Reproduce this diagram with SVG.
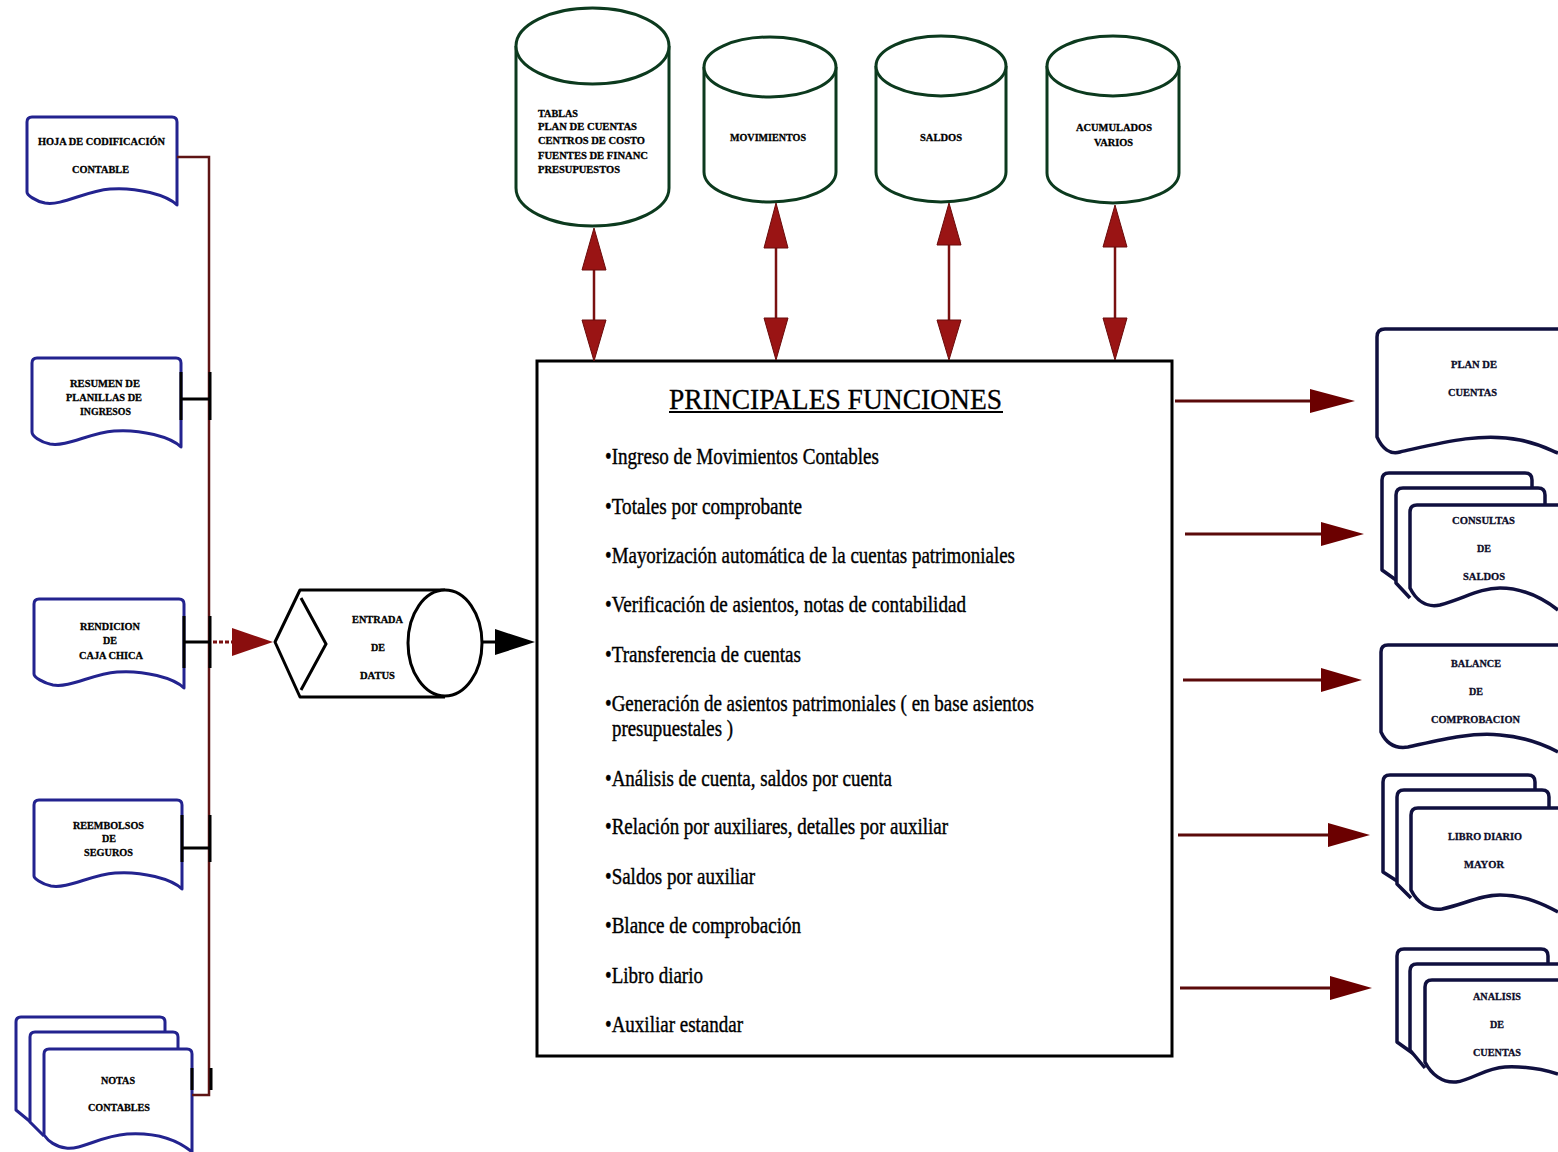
<svg xmlns="http://www.w3.org/2000/svg" width="1558" height="1152" viewBox="0 0 1558 1152">
  <defs>
    <style>
      .doc-l { fill: #fff; stroke: #23238f; stroke-width: 3; stroke-linejoin: round; }
      .doc-r { fill: #fff; stroke: #10103f; stroke-width: 3.5; stroke-linejoin: round; }
      .cyl { fill: #fff; stroke: #0c3a1e; stroke-width: 3; }
      .lbl { font-family: "Liberation Serif", "Times New Roman", serif; font-weight: bold; font-size: 11px; fill: #000; stroke: #000; stroke-width: 0.3; }
      .lbl-r { font-family: "Liberation Serif", "Times New Roman", serif; font-weight: bold; font-size: 11px; fill: #0c0c28; stroke: #0c0c28; stroke-width: 0.3; }
      .func { font-family: "Liberation Serif", "Times New Roman", serif; font-size: 22.5px; fill: #000; stroke: #000; stroke-width: 0.4; }
      .title { font-family: "Liberation Serif", "Times New Roman", serif; font-size: 30px; fill: #000; stroke: #000; stroke-width: 0.3; }
      .bus { fill: none; stroke: #5e1414; stroke-width: 2.5; }
      .tie { fill: none; stroke: #000; stroke-width: 3; }
      .dbl { stroke: #7a1010; stroke-width: 2.5; }
      .head-red { fill: #9a1414; stroke: #6a0a0a; stroke-width: 1; }
      .out-line { stroke: #5b0a0a; stroke-width: 3; }
      .out-head { fill: #6b0000; }
    </style>
  </defs>

  <!-- ===== Input documents (left) ===== -->
  <g id="doc-hoja-codificacion">
    <path class="doc-l" d="M27,192 V122 Q27,117 32,117 H172 Q177,117 177,122 V205 C167,195 137,187 110,189 C85,191 62,206 45,203 C35,201 27,195 27,192 Z"/>
    <text class="lbl" x="38" y="145" textLength="127" lengthAdjust="spacingAndGlyphs">HOJA DE CODIFICACIÓN</text>
    <text class="lbl" x="72" y="173" textLength="57" lengthAdjust="spacingAndGlyphs">CONTABLE</text>
  </g>

  <g id="doc-resumen-planillas">
    <path class="doc-l" d="M32,432 V363 Q32,358 37,358 H176 Q181,358 181,363 V447 C171,437 141,429 114,431 C89,433 67,447 50,444 C40,442 32,436 32,432 Z"/>
    <text class="lbl" x="70" y="387" textLength="70" lengthAdjust="spacingAndGlyphs">RESUMEN DE</text>
    <text class="lbl" x="66" y="401" textLength="76" lengthAdjust="spacingAndGlyphs">PLANILLAS DE</text>
    <text class="lbl" x="80" y="415" textLength="51" lengthAdjust="spacingAndGlyphs">INGRESOS</text>
  </g>

  <g id="doc-rendicion-caja">
    <path class="doc-l" d="M34,674 V604 Q34,599 39,599 H179 Q184,599 184,604 V688 C174,678 144,670 117,672 C92,674 70,688 53,685 C43,683 34,677 34,674 Z"/>
    <text class="lbl" x="80" y="630" textLength="60" lengthAdjust="spacingAndGlyphs">RENDICION</text>
    <text class="lbl" x="103" y="644" textLength="14" lengthAdjust="spacingAndGlyphs">DE</text>
    <text class="lbl" x="79" y="659" textLength="64" lengthAdjust="spacingAndGlyphs">CAJA CHICA</text>
  </g>

  <g id="doc-reembolsos">
    <path class="doc-l" d="M34,876 V805 Q34,800 39,800 H177 Q182,800 182,805 V889 C172,879 142,871 115,873 C90,875 68,889 51,886 C41,884 34,878 34,876 Z"/>
    <text class="lbl" x="73" y="829" textLength="71" lengthAdjust="spacingAndGlyphs">REEMBOLSOS</text>
    <text class="lbl" x="102" y="842" textLength="14" lengthAdjust="spacingAndGlyphs">DE</text>
    <text class="lbl" x="84" y="856" textLength="49" lengthAdjust="spacingAndGlyphs">SEGUROS</text>
  </g>

  <g id="doc-notas-contables">
    <path class="doc-l" d="M44,1133 L16,1110 V1022 Q16,1017 21,1017 H160 Q165,1017 165,1022 V1032"/>
    <path class="doc-l" d="M44,1136 L30,1122 V1037 Q30,1032 35,1032 H173 Q178,1032 178,1037 V1049"/>
    <path class="doc-l" d="M44,1135 V1054 Q44,1049 49,1049 H187 Q192,1049 192,1054 V1152 C180,1142 160,1132 127,1134 C100,1136 82,1150 66,1148 C56,1147 48,1141 44,1135 Z"/>
    <text class="lbl" x="101" y="1084" textLength="34" lengthAdjust="spacingAndGlyphs">NOTAS</text>
    <text class="lbl" x="88" y="1111" textLength="62" lengthAdjust="spacingAndGlyphs">CONTABLES</text>
  </g>

  <!-- ===== Data stores (top) ===== -->
  <g id="db-tablas">
    <path class="cyl" d="M516,46 V188 A76.5,38 0 0 0 669,188 V46"/>
    <ellipse class="cyl" cx="592.5" cy="46" rx="76.5" ry="38"/>
    <text class="lbl" x="538" y="117" textLength="40" lengthAdjust="spacingAndGlyphs">TABLAS</text>
    <text class="lbl" x="538" y="130" textLength="99" lengthAdjust="spacingAndGlyphs">PLAN DE CUENTAS</text>
    <text class="lbl" x="538" y="144" textLength="107" lengthAdjust="spacingAndGlyphs">CENTROS DE COSTO</text>
    <text class="lbl" x="538" y="159" textLength="110" lengthAdjust="spacingAndGlyphs">FUENTES DE FINANC</text>
    <text class="lbl" x="538" y="173" textLength="82" lengthAdjust="spacingAndGlyphs">PRESUPUESTOS</text>
  </g>

  <g id="db-movimientos">
    <path class="cyl" d="M704,67 V172 A66,30 0 0 0 836,172 V67"/>
    <ellipse class="cyl" cx="770" cy="67" rx="66" ry="30"/>
    <text class="lbl" x="730" y="141" textLength="76" lengthAdjust="spacingAndGlyphs">MOVIMIENTOS</text>
  </g>

  <g id="db-saldos">
    <path class="cyl" d="M876,66 V172 A65,30 0 0 0 1006,172 V66"/>
    <ellipse class="cyl" cx="941" cy="66" rx="65" ry="30"/>
    <text class="lbl" x="920" y="141" textLength="42" lengthAdjust="spacingAndGlyphs">SALDOS</text>
  </g>

  <g id="db-acumulados">
    <path class="cyl" d="M1047,66 V173 A66,30 0 0 0 1179,173 V66"/>
    <ellipse class="cyl" cx="1113" cy="66" rx="66" ry="30"/>
    <text class="lbl" x="1076" y="131" textLength="76" lengthAdjust="spacingAndGlyphs">ACUMULADOS</text>
    <text class="lbl" x="1094" y="146" textLength="39" lengthAdjust="spacingAndGlyphs">VARIOS</text>
  </g>

  <!-- ===== Data entry ===== -->
  <g id="entrada-datos">
    <path d="M445,590 H300 L275,642 L300,697 H445" fill="#fff" stroke="#000" stroke-width="3" stroke-linejoin="round"/>
    <ellipse cx="445" cy="643" rx="37" ry="53" fill="#fff" stroke="#000" stroke-width="3"/>
    <path d="M301,598 L326,644 L301,690" fill="none" stroke="#000" stroke-width="3"/>
    <text class="lbl" x="352" y="623" textLength="51" lengthAdjust="spacingAndGlyphs">ENTRADA</text>
    <text class="lbl" x="371" y="651" textLength="14" lengthAdjust="spacingAndGlyphs">DE</text>
    <text class="lbl" x="360" y="679" textLength="35" lengthAdjust="spacingAndGlyphs">DATUS</text>
  </g>

  <!-- ===== Main functions box ===== -->
  <g id="principales-funciones">
    <rect x="537" y="361" width="635" height="695" fill="#fff" stroke="#000" stroke-width="3"/>
    <text class="title" x="669" y="409" textLength="333" lengthAdjust="spacingAndGlyphs">PRINCIPALES FUNCIONES</text>
    <line x1="669" y1="412" x2="1003" y2="412" stroke="#000" stroke-width="1.8"/>
    <text class="func" x="605" y="464" textLength="274" lengthAdjust="spacingAndGlyphs">•Ingreso de Movimientos Contables</text>
    <text class="func" x="605" y="514" textLength="197" lengthAdjust="spacingAndGlyphs">•Totales por comprobante</text>
    <text class="func" x="605" y="563" textLength="410" lengthAdjust="spacingAndGlyphs">•Mayorización automática de la cuentas patrimoniales</text>
    <text class="func" x="605" y="612" textLength="361" lengthAdjust="spacingAndGlyphs">•Verificación de asientos, notas de contabilidad</text>
    <text class="func" x="605" y="662" textLength="196" lengthAdjust="spacingAndGlyphs">•Transferencia de cuentas</text>
    <text class="func" x="605" y="711" textLength="429" lengthAdjust="spacingAndGlyphs">•Generación de asientos patrimoniales ( en base asientos</text>
    <text class="func" x="612" y="736" textLength="121" lengthAdjust="spacingAndGlyphs">presupuestales )</text>
    <text class="func" x="605" y="786" textLength="287" lengthAdjust="spacingAndGlyphs">•Análisis de cuenta, saldos por cuenta</text>
    <text class="func" x="605" y="834" textLength="343" lengthAdjust="spacingAndGlyphs">•Relación por auxiliares, detalles por auxiliar</text>
    <text class="func" x="605" y="884" textLength="150" lengthAdjust="spacingAndGlyphs">•Saldos por auxiliar</text>
    <text class="func" x="605" y="933" textLength="196" lengthAdjust="spacingAndGlyphs">•Blance de comprobación</text>
    <text class="func" x="605" y="983" textLength="98" lengthAdjust="spacingAndGlyphs">•Libro diario</text>
    <text class="func" x="605" y="1032" textLength="138" lengthAdjust="spacingAndGlyphs">•Auxiliar estandar</text>
  </g>

  <!-- ===== Output reports (right) ===== -->
  <g id="rep-plan-cuentas">
    <path class="doc-r" d="M1558,329 H1385 Q1377,329 1377,337 V437 C1382,448 1390,455 1400,452 C1440,443 1480,432 1520,440 C1540,444 1550,450 1558,453"/>
    <text class="lbl-r" x="1451" y="368" textLength="46" lengthAdjust="spacingAndGlyphs">PLAN DE</text>
    <text class="lbl-r" x="1448" y="396" textLength="49" lengthAdjust="spacingAndGlyphs">CUENTAS</text>
  </g>

  <g id="rep-consultas-saldos">
    <path class="doc-r" d="M1410,590 L1382,570 V480 Q1382,473 1389,473 H1525 Q1532,473 1532,480 V488"/>
    <path class="doc-r" d="M1410,598 L1396,583 V495 Q1396,488 1403,488 H1538 Q1545,488 1545,495 V505"/>
    <path class="doc-r" d="M1558,505 H1417 Q1410,505 1410,512 V588 C1416,600 1426,608 1440,605 C1465,598 1480,588 1500,588 C1525,588 1545,600 1558,610"/>
    <text class="lbl-r" x="1452" y="524" textLength="63" lengthAdjust="spacingAndGlyphs">CONSULTAS</text>
    <text class="lbl-r" x="1477" y="552" textLength="14" lengthAdjust="spacingAndGlyphs">DE</text>
    <text class="lbl-r" x="1463" y="580" textLength="42" lengthAdjust="spacingAndGlyphs">SALDOS</text>
  </g>

  <g id="rep-balance">
    <path class="doc-r" d="M1558,645 H1388 Q1381,645 1381,652 V732 C1386,743 1395,749 1408,747 C1440,740 1470,732 1500,735 C1525,737 1545,745 1558,752"/>
    <text class="lbl-r" x="1451" y="667" textLength="50" lengthAdjust="spacingAndGlyphs">BALANCE</text>
    <text class="lbl-r" x="1469" y="695" textLength="14" lengthAdjust="spacingAndGlyphs">DE</text>
    <text class="lbl-r" x="1431" y="723" textLength="89" lengthAdjust="spacingAndGlyphs">COMPROBACION</text>
  </g>

  <g id="rep-libro-diario">
    <path class="doc-r" d="M1411,890 L1383,872 V782 Q1383,775 1390,775 H1528 Q1535,775 1535,782 V790"/>
    <path class="doc-r" d="M1411,898 L1397,884 V797 Q1397,790 1404,790 H1542 Q1549,790 1549,797 V808"/>
    <path class="doc-r" d="M1558,808 H1418 Q1411,808 1411,815 V890 C1417,902 1428,911 1442,909 C1465,904 1480,895 1500,895 C1525,895 1545,905 1558,912"/>
    <text class="lbl-r" x="1448" y="840" textLength="74" lengthAdjust="spacingAndGlyphs">LIBRO DIARIO</text>
    <text class="lbl-r" x="1464" y="868" textLength="40" lengthAdjust="spacingAndGlyphs">MAYOR</text>
  </g>

  <g id="rep-analisis-cuentas">
    <path class="doc-r" d="M1425,1062 L1397,1042 V956 Q1397,949 1404,949 H1541 Q1548,949 1548,956 V964"/>
    <path class="doc-r" d="M1425,1068 L1410,1050 V971 Q1410,964 1417,964 H1558"/>
    <path class="doc-r" d="M1558,980 H1432 Q1425,980 1425,987 V1062 C1431,1074 1442,1083 1456,1082 C1472,1080 1485,1068 1505,1067 C1528,1066 1545,1070 1558,1074"/>
    <text class="lbl-r" x="1473" y="1000" textLength="48" lengthAdjust="spacingAndGlyphs">ANALISIS</text>
    <text class="lbl-r" x="1490" y="1028" textLength="14" lengthAdjust="spacingAndGlyphs">DE</text>
    <text class="lbl-r" x="1473" y="1056" textLength="48" lengthAdjust="spacingAndGlyphs">CUENTAS</text>
  </g>

  <!-- ===== Connectors ===== -->
  <g id="connectors">
    <!-- input collection bus -->
    <path class="bus" d="M177,157 H209 V1095 H192"/>
    <path class="tie" d="M181,399 H210 M181,372 V420 M210,372 V420"/>
    <path class="tie" d="M184,642 H211 M184,616 V668 M210,616 V668"/>
    <path class="tie" d="M182,848 H210 M182,815 V862 M210,815 V862"/>
    <path class="tie" d="M192,1068 V1090 M211,1068 V1090"/>

    <!-- bus to data entry -->
    <line x1="213" y1="642" x2="234" y2="642" stroke="#7a1010" stroke-width="3" stroke-dasharray="4,2"/>
    <polygon points="232,628 273,642 232,656" fill="#8a0e0e"/>

    <!-- data entry to main box -->
    <line x1="482" y1="642" x2="500" y2="642" stroke="#000" stroke-width="3"/>
    <polygon points="495,629 535,642 495,655" fill="#000"/>

    <!-- two-way links with data stores -->
    <line class="dbl" x1="594" y1="265" x2="594" y2="325"/>
    <polygon class="head-red" points="594,228 582,270 606,270"/>
    <polygon class="head-red" points="582,320 606,320 594,361"/>

    <line class="dbl" x1="776" y1="243" x2="776" y2="323"/>
    <polygon class="head-red" points="776,203 764,248 788,248"/>
    <polygon class="head-red" points="764,318 788,318 776,360"/>

    <line class="dbl" x1="949" y1="240" x2="949" y2="325"/>
    <polygon class="head-red" points="949,203 937,245 961,245"/>
    <polygon class="head-red" points="937,320 961,320 949,360"/>

    <line class="dbl" x1="1115" y1="242" x2="1115" y2="323"/>
    <polygon class="head-red" points="1115,205 1103,247 1127,247"/>
    <polygon class="head-red" points="1103,318 1127,318 1115,360"/>

    <!-- outputs to reports -->
    <line class="out-line" x1="1175" y1="401" x2="1315" y2="401"/>
    <polygon class="out-head" points="1310,389 1355,401 1310,413"/>
    <line class="out-line" x1="1185" y1="534" x2="1325" y2="534"/>
    <polygon class="out-head" points="1321,522 1364,534 1321,546"/>
    <line class="out-line" x1="1183" y1="680" x2="1325" y2="680"/>
    <polygon class="out-head" points="1321,668 1362,680 1321,692"/>
    <line class="out-line" x1="1178" y1="835" x2="1332" y2="835"/>
    <polygon class="out-head" points="1328,823 1370,835 1328,847"/>
    <line class="out-line" x1="1180" y1="988" x2="1333" y2="988"/>
    <polygon class="out-head" points="1330,976 1372,988 1330,1000"/>
  </g>
</svg>
